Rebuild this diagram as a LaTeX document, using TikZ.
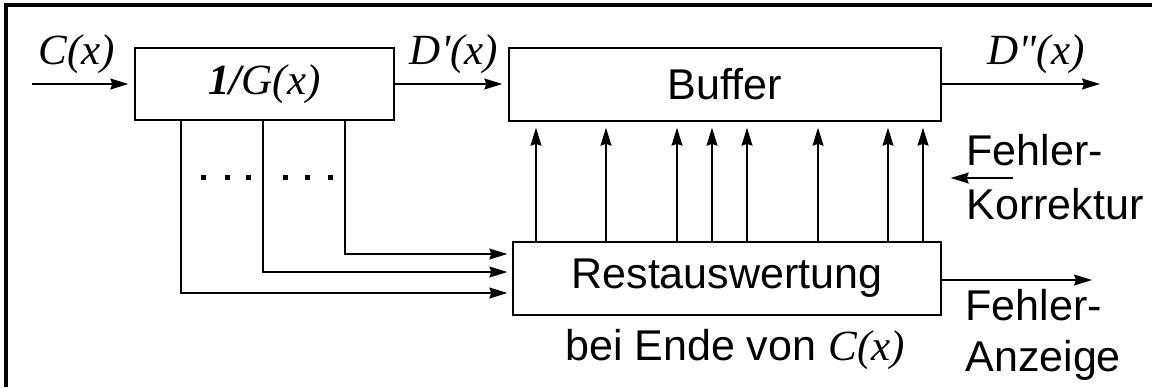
\documentclass[tikz,border=0pt]{standalone}
\usepackage{fontspec}
\setmainfont{Liberation Sans}
\newfontfamily\tmsfont{Liberation Serif}
\usepackage{tikz}
\usetikzlibrary{arrows.meta, positioning}

\newcommand{\fx}[1]{{\tmsfont\itshape #1}}

\begin{document}
\begin{tikzpicture}[
    x=0.02cm, y=-0.02cm,
    every node/.style={font=\fontsize{24.5}{29}\selectfont, inner sep=0pt},
    box/.style={draw, line width=0.85pt, align=center},
    arr/.style={-{Stealth[length=3.6mm, width=2.2mm, inset=0.4mm]}, line width=0.7pt, shorten >=1.2mm}
]
    \useasboundingbox (0,0) rectangle (1152,387);

    % Frame
    \draw[line width=1.8pt] (6,387) -- (6,5) -- (1152,5);

    % Blocks
    \node[box, minimum width=5.18cm, minimum height=1.44cm] (div) at (264.5,84) {\fx{\bfseries 1/}\fx{G(x)}};
    \node[box, minimum width=8.64cm, minimum height=1.46cm] (buf) at (725,84.5) {Buffer};
    \node[box, minimum width=8.56cm, minimum height=1.46cm] (rest) at (727,278.5) {Restauswertung};

    % Signals
    \coordinate (cin) at (32,84);
    \coordinate (dout) at (1100,84);
    \coordinate (korr) at (1013,178);
    \coordinate (anz) at (1092,280);
    \draw[arr] (cin) -- (div);
    \draw[arr] (div.east) -- (div.east -| buf.west);
    \draw[arr, shorten >=0pt] (buf.east |- dout) -- (dout);
    \draw[arr, shorten >=1.8mm] (korr) -- (korr -| buf.east);
    \draw[arr, shorten >=0pt] (rest.east |- anz) -- (anz);

    % Syndrome lines into Restauswertung
    \foreach \x/\y in {181/293, 263/272, 345/254}
        \draw[arr, shorten >=1mm] (\x,0 |- div.south) |- (rest.west |- 0,\y);
    \foreach \x in {203,227,248,285,307,330}
        \fill (\x-2.5,175) rectangle ++(5,5);

    % Corrections into Buffer
    \foreach \x in {536,606,677,712,747,818,888,923}
        \draw[arr] (\x,0 |- rest.north) -- (\x,0 |- buf.south);

    % Labels
    \node[anchor=base] (lblc) at (77,64) {\fx{C(x)}};
    \node[anchor=base] (lbld) at (454,64) {\fx{D\textquotesingle(x)}};
    \node[anchor=base] (lbldd) at (1036,64) {\fx{D\textquotedbl(x)}};
    \node[anchor=base] (ende) at (735,360) {bei Ende von \fx{C(x)}};
    \node[anchor=north west, align=left, font=\fontsize{24.5}{30.5}\selectfont] (korrtxt) at (966,134) {Fehler-\\Korrektur};
    \node[anchor=north west, align=left] (anztxt) at (965,289) {Fehler-\\Anzeige};
\end{tikzpicture}
\end{document}
